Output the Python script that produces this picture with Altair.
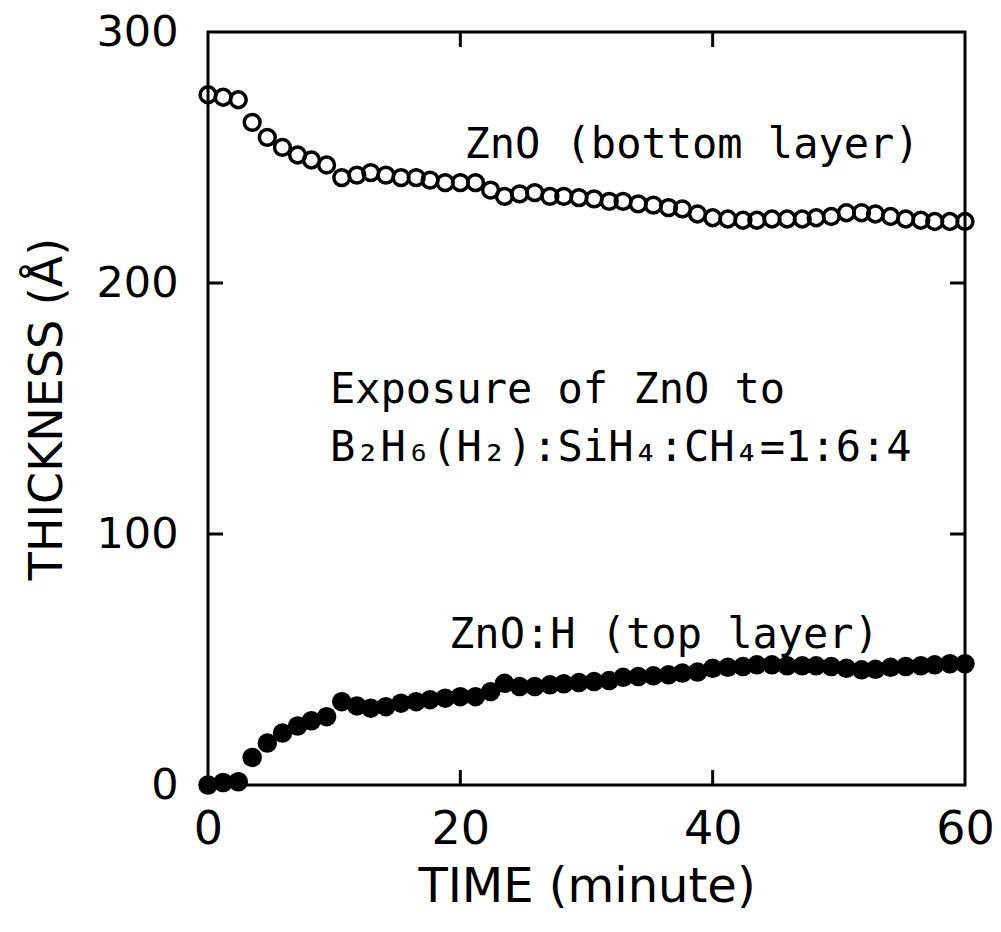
import altair as alt
import pandas as pd

# Time axis (minutes) shared by both layers
time_min = [0.0, 1.2, 2.4, 3.5, 4.7, 5.9, 7.1, 8.2, 9.4, 10.6, 11.8, 12.9, 14.1,
            15.3, 16.5, 17.6, 18.8, 20.0, 21.2, 22.4, 23.5, 24.7, 25.9, 27.1, 28.2,
            29.4, 30.6, 31.8, 32.9, 34.1, 35.3, 36.5, 37.6, 38.8, 40.0, 41.2, 42.4,
            43.5, 44.7, 45.9, 47.1, 48.2, 49.4, 50.6, 51.8, 52.9, 54.1, 55.3, 56.5,
            57.6, 58.8, 60.0]

# ZnO bottom layer thickness (Å), open circles
bottom_layer = [275, 274, 273, 264, 258, 254, 251, 249, 247, 242, 243, 244, 243,
                242, 242, 241, 240, 240, 240, 237, 234.5, 235.5, 236, 234.5, 234.5,
                234, 233.5, 232.5, 232.5, 231.5, 231, 230, 229.5, 227.5, 226, 225.5,
                225, 225, 225.5, 225.5, 225.5, 226, 226.5, 228, 228, 227.5, 226.5,
                225.5, 225, 224.5, 224.5, 224.5]

# ZnO:H top layer thickness (Å), filled circles
top_layer = [0, 1, 1.3, 11, 16.7, 20.7, 23.5, 25.6, 27.2, 33.2, 31.5, 30.6, 31.2,
             32.6, 33.2, 34, 34.6, 35.2, 35.2, 37.2, 40.5, 39.2, 39.2, 39.9, 40.3,
             40.8, 41.2, 41.6, 42.9, 43.2, 43.5, 43.9, 44.6, 45, 46.5, 46.9, 47.2,
             47.9, 47.9, 47.5, 47.5, 47.5, 47.2, 46.5, 45.9, 46.1, 46.9, 47.2, 47.5,
             47.9, 48.3, 48.3]

x_ticks = [0, 20, 40, 60]
y_ticks = [0, 100, 200, 300]
x_inner_ticks = [20, 40]
y_inner_ticks = [100, 200]

FONT = "DejaVu Sans"
MONO = "DejaVu Sans Mono"
W, H = 757, 753

df = pd.DataFrame({"t": time_min, "bottom": bottom_layer, "top": top_layer})

x_scale = alt.Scale(domain=[0, 60], nice=False, zero=False)
y_scale = alt.Scale(domain=[0, 300], nice=False)

x_axis = alt.Axis(values=x_ticks, ticks=False, domain=False, grid=False,
                  labelFont=FONT, labelFontSize=46, labelColor="black",
                  labelPadding=22, labelFlush=False,
                  title="TIME (minute)", titleFont=FONT, titleFontSize=48,
                  titleFontWeight="normal", titleColor="black", titlePadding=11)
y_axis = alt.Axis(values=y_ticks, ticks=False, domain=False, grid=False,
                  labelFont=FONT, labelFontSize=43, labelColor="black",
                  labelPadding=30, labelFlush=False,
                  title="THICKNESS (Å)", titleFont=FONT, titleFontSize=46,
                  titleFontWeight="normal", titleColor="black", titlePadding=24)

base = alt.Chart(df)

bottom_pts = base.mark_point(shape="circle", filled=False, color="black",
                             strokeWidth=3.5, size=250, opacity=1).encode(
    x=alt.X("t:Q", scale=x_scale, axis=x_axis),
    y=alt.Y("bottom:Q", scale=y_scale, axis=y_axis),
)

top_pts = base.mark_point(shape="circle", filled=True, color="black",
                          size=380, opacity=1).encode(
    x=alt.X("t:Q", scale=x_scale),
    y=alt.Y("top:Q", scale=y_scale),
)

# Inward tick marks on all four sides of the frame
xt = pd.DataFrame({"v": x_inner_ticks})
yt = pd.DataFrame({"v": y_inner_ticks})
TL = 15
tick_style = dict(color="black", strokeWidth=3)
ticks_bottom = alt.Chart(xt).mark_rule(**tick_style).encode(
    x=alt.X("v:Q", scale=x_scale), y=alt.value(H), y2=alt.value(H - TL))
ticks_top = alt.Chart(xt).mark_rule(**tick_style).encode(
    x=alt.X("v:Q", scale=x_scale), y=alt.value(0), y2=alt.value(TL))
ticks_left = alt.Chart(yt).mark_rule(**tick_style).encode(
    y=alt.Y("v:Q", scale=y_scale), x=alt.value(0), x2=alt.value(TL))
ticks_right = alt.Chart(yt).mark_rule(**tick_style).encode(
    y=alt.Y("v:Q", scale=y_scale), x=alt.value(W), x2=alt.value(W - TL))

def label(text, x, y, align="center"):
    return alt.Chart(pd.DataFrame({"s": [text]})).mark_text(
        font=MONO, fontSize=42, color="black", align=align, baseline="middle"
    ).encode(text="s:N", x=alt.value(x), y=alt.value(y))

labels = (
    label("ZnO (bottom layer)", 484, 113)
    + label("Exposure of ZnO to", 122, 358, "left")
    + label("B₂H₆(H₂):SiH₄:CH₄=1:6:4", 122, 416, "left")
    + label("ZnO:H (top layer)", 456, 603)
)

chart = alt.layer(
    bottom_pts, top_pts, ticks_bottom, ticks_top, ticks_left, ticks_right, labels
).properties(
    width=W, height=H,
    autosize=alt.AutoSizeParams(type="none"),
    padding={"left": 208, "top": 32, "right": 36, "bottom": 147},
    background="white",
).configure_view(
    stroke="black", strokeWidth=3
)

chart.save("out.html", embed_options={"renderer": "svg", "actions": False})
